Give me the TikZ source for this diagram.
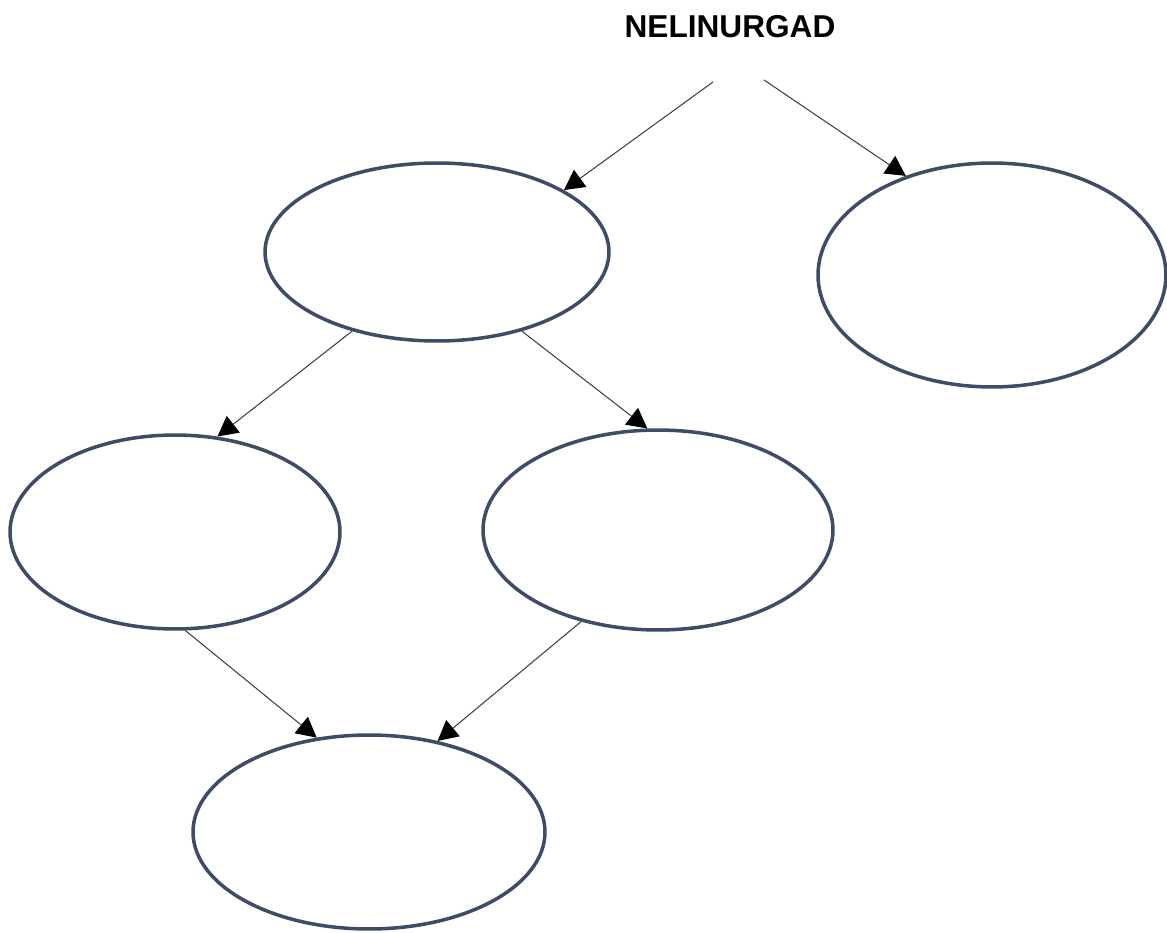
\documentclass[tikz,border=0pt]{standalone}
\usepackage{fontspec}
\setmainfont{Liberation Sans}
\usetikzlibrary{arrows.meta,shapes.geometric}
\definecolor{rim}{RGB}{62,76,102}

\begin{document}
\begin{tikzpicture}[x=0.02cm,y=-0.02cm,>={Triangle[length=0.4cm,width=0.42cm,color=black]},
  oval/.style={ellipse,draw=rim,line width=2pt,inner sep=0pt},
  arr/.style={->,draw=black!75,line width=0.6pt}]
\useasboundingbox (0,0) rectangle (1167,933);
\node[font=\bfseries\fontsize{18}{20}\selectfont] (title) at (730,27) {NELINURGAD};
\coordinate (t1) at (713,82); \coordinate (t2) at (764,80);
% ovals
\node[oval,minimum width=6.88cm,minimum height=3.56cm] (e1) at (437,252) {};
\node[oval,minimum width=6.96cm,minimum height=4.48cm] (e2) at (992,275) {};
\node[oval,minimum width=6.60cm,minimum height=3.88cm] (e3) at (175,532) {};
\node[oval,minimum width=7.00cm,minimum height=4.00cm] (e4) at (658,530) {};
\node[oval,minimum width=7.04cm,minimum height=3.88cm] (e5) at (369,832) {};
% arrows
\draw[arr] (t1) -- (e1.26);
\draw[arr] (t2) -- (e2.131);
\draw[arr] (e1.223) -- (e3.66);
\draw[arr] (e1.317) -- (e4.96);
\draw[arr] (e3.276) -- (e5.119);
\draw[arr] (e4.230) -- (e5.53);
\end{tikzpicture}
\end{document}
